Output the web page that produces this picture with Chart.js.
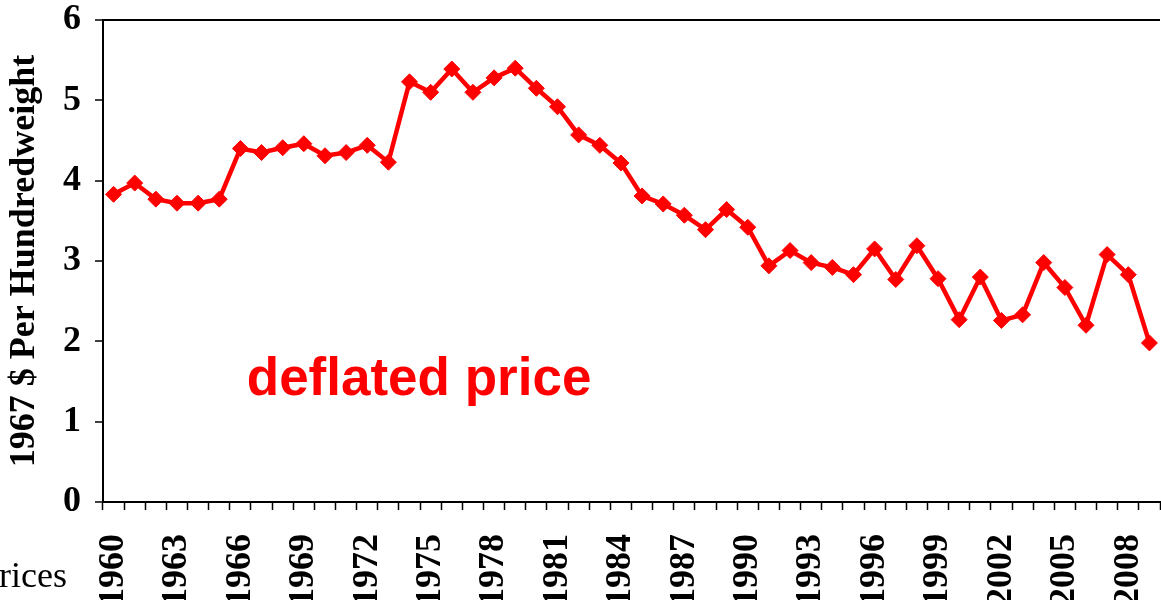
<!DOCTYPE html>
<html>
<head>
<meta charset="utf-8">
<script src="https://cdn.jsdelivr.net/npm/chart.js@4/dist/chart.umd.min.js"></script>
<style>
  html, body { margin: 0; padding: 0; background: #fff; }
  #wrap { position: relative; width: 1161px; height: 600px; }
</style>
</head>
<body>
<div id="wrap"><canvas id="grafico"></canvas></div>
<script>
// años 1960 - 2009
const years = [
  "1960", "1961", "1962", "1963", "1964", "1965", "1966", "1967", "1968", "1969",
  "1970", "1971", "1972", "1973", "1974", "1975", "1976", "1977", "1978", "1979",
  "1980", "1981", "1982", "1983", "1984", "1985", "1986", "1987", "1988", "1989",
  "1990", "1991", "1992", "1993", "1994", "1995", "1996", "1997", "1998", "1999",
  "2000", "2001", "2002", "2003", "2004", "2005", "2006", "2007", "2008", "2009",
];

// precio deflactado, $ de 1967 por quintal
const deflatedPrice = [
  3.83, 3.97, 3.77, 3.72, 3.72, 3.77, 4.40, 4.35, 4.41, 4.46,
  4.31, 4.35, 4.44, 4.23, 5.23, 5.10, 5.39, 5.10, 5.28, 5.40,
  5.15, 4.92, 4.57, 4.44, 4.22, 3.81, 3.71, 3.57, 3.39, 3.64,
  3.42, 2.94, 3.13, 2.98, 2.92, 2.83, 3.15, 2.77, 3.19, 2.78,
  2.27, 2.80, 2.26, 2.33, 2.98, 2.67, 2.20, 3.08, 2.83, 1.98,
];

const yTicks = [0, 1, 2, 3, 4, 5, 6];

const serif = "'Liberation Serif', 'Times New Roman', serif";
const rojo = "#ff0000";

// sólo se rotula un año de cada tres
const conEtiqueta = (i) => i % 3 === 0;

// textos sueltos sobre el gráfico
const etiquetas = {
  id: "etiquetas",
  afterDraw(chart) {
    const { ctx, scales } = chart;
    ctx.save();
    ctx.fillStyle = rojo;
    ctx.font = "bold 53px 'Liberation Sans', Arial, sans-serif";
    ctx.textAlign = "left";
    ctx.textBaseline = "alphabetic";
    ctx.fillText("deflated price", scales.x.getPixelForValue(6.3), scales.y.getPixelForValue(1.33));

    ctx.fillStyle = "#000";
    ctx.font = "36px " + serif;
    ctx.fillText("Prices", -21, 587);
    ctx.restore();
  },
};

const ctx = document.getElementById("grafico").getContext("2d");
new Chart(ctx, {
  type: "line",
  data: {
    labels: years,
    datasets: [
      {
        label: "deflated price",
        data: deflatedPrice,
        borderColor: rojo,
        backgroundColor: rojo,
        borderWidth: 4.5,
        tension: 0,
        pointStyle: "rectRot",
        pointRadius: 8,
        pointHoverRadius: 8,
        pointBorderWidth: 1,
      },
    ],
  },
  options: {
    responsive: true,
    maintainAspectRatio: false,
    animation: false,
    layout: { autoPadding: false, padding: { top: 20, right: 1, left: 0, bottom: 0 } },
    plugins: {
      legend: { display: false },
      tooltip: { enabled: false },
    },
    scales: {
      x: {
        type: "category",
        offset: true,
        grid: {
          offset: true,
          drawOnChartArea: false,
          tickLength: 8,
          tickColor: "#000",
          tickWidth: 1.5,
        },
        border: { color: "#000", width: 2 },
        ticks: {
          autoSkip: false,
          minRotation: 90,
          maxRotation: 90,
          padding: 24,
          color: "#000",
          // las marcas sin texto no deben reservar espacio a los lados
          font: (c) =>
            conEtiqueta(c.index)
              ? { family: serif, size: 36, weight: "bold" }
              : { family: serif, size: 1 },
          callback(value, index) {
            return conEtiqueta(index) ? years[index] : "";
          },
        },
        afterFit(scale) {
          scale.height = 98;
          scale.paddingLeft = 0;
          scale.paddingRight = 0;
        },
      },
      y: {
        min: yTicks[0],
        max: yTicks[yTicks.length - 1],
        afterBuildTicks(scale) {
          scale.ticks = yTicks.map((v) => ({ value: v }));
        },
        grid: {
          // sólo la línea superior, como marco
          color: (c) => (c.tick && c.tick.value === 6 ? "#000" : "rgba(0,0,0,0)"),
          lineWidth: 2,
          tickLength: 8,
          tickColor: "#000",
          tickWidth: 1.5,
        },
        border: { color: "#000", width: 2 },
        ticks: {
          padding: 14,
          color: "#000",
          font: { family: serif, size: 36, weight: "bold" },
        },
        title: {
          display: true,
          text: "1967 $ Per Hundredweight",
          color: "#000",
          padding: { top: 3, bottom: 0 },
          font: { family: serif, size: 36, weight: "bold" },
        },
        afterFit(scale) {
          scale.width = 103;
          scale.paddingTop = 0;
          scale.paddingBottom = 0;
        },
      },
    },
  },
  plugins: [etiquetas],
});
</script>
</body>
</html>
